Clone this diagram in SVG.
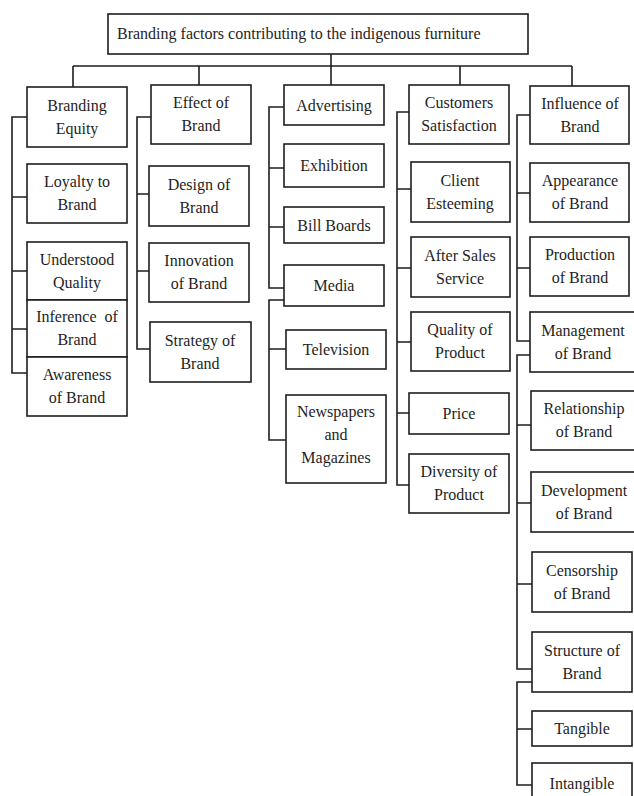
<svg xmlns="http://www.w3.org/2000/svg" width="634" height="796" viewBox="0 0 634 796">
<style>
.b{fill:#fff;stroke:#1e1e1e;stroke-width:1.6}
.t{font-family:"Liberation Serif","Times New Roman",serif;font-size:16px;fill:#1e1e1e;text-anchor:middle}
.c{fill:none;stroke:#1e1e1e;stroke-width:1.6}
</style>
<rect width="634" height="796" fill="#fff"/>
<g id="connectors">
<path class="c" d="M331,54V86M73,66H572M73,66V87M199,66V85M460,66V85M572,66V86"/>
<path class="c" d="M27,117H12V373H27M12,197H27M12,271H27M12,329H27"/>
<path class="c" d="M151,117H137V349H150M137,194H149M137,271H149"/>
<path class="c" d="M284,107H269V288H284M269,168H284M269,227H284"/>
<path class="c" d="M284,300H269V440H286M269,349H286"/>
<path class="c" d="M409,112H397V485H409M397,189H411M397,268H411M397,342H411M397,413H409"/>
<path class="c" d="M530,115H517V341H530M517,193H530M517,268H530"/>
<path class="c" d="M530,355H517V669H532M517,425H531M517,503H531M517,584H532"/>
<path class="c" d="M532,682H517V785H532M517,729H532"/>
</g>
<g id="root"><rect class="b" x="108" y="14" width="420" height="40"/><text class="t" x="117" y="39" style="text-anchor:start">Branding factors contributing to the indigenous furniture</text></g>
<g id="branding-equity"><rect class="b" x="27" y="87" width="100" height="60"/><text class="t" x="77" y="110.5">Branding</text><text class="t" x="77" y="133.5">Equity</text></g>
<g id="loyalty"><rect class="b" x="27" y="164" width="100" height="59"/><text class="t" x="77" y="187">Loyalty to</text><text class="t" x="77" y="210">Brand</text></g>
<g id="understood"><rect class="b" x="27" y="242" width="100" height="58"/><text class="t" x="77" y="264.5">Understood</text><text class="t" x="77" y="287.5">Quality</text></g>
<g id="inference"><rect class="b" x="27" y="300" width="100" height="57"/><text class="t" x="77" y="322" xml:space="preserve">Inference  of</text><text class="t" x="77" y="345">Brand</text></g>
<g id="awareness"><rect class="b" x="27" y="357" width="100" height="59"/><text class="t" x="77" y="380">Awareness</text><text class="t" x="77" y="403">of Brand</text></g>
<g id="effect"><rect class="b" x="151" y="85" width="100" height="59"/><text class="t" x="201" y="108">Effect of</text><text class="t" x="201" y="131">Brand</text></g>
<g id="design"><rect class="b" x="149" y="166" width="100" height="60"/><text class="t" x="199" y="189.5">Design of</text><text class="t" x="199" y="212.5">Brand</text></g>
<g id="innovation"><rect class="b" x="149" y="243" width="100" height="59"/><text class="t" x="199" y="266">Innovation</text><text class="t" x="199" y="289">of Brand</text></g>
<g id="strategy"><rect class="b" x="150" y="322" width="101" height="60"/><text class="t" x="200" y="345.5">Strategy of</text><text class="t" x="200" y="368.5">Brand</text></g>
<g id="advertising"><rect class="b" x="284" y="85" width="100" height="40"/><text class="t" x="334" y="110.5">Advertising</text></g>
<g id="exhibition"><rect class="b" x="284" y="144" width="100" height="43"/><text class="t" x="334" y="171">Exhibition</text></g>
<g id="billboards"><rect class="b" x="284" y="207" width="100" height="36"/><text class="t" x="334" y="230.5">Bill Boards</text></g>
<g id="media"><rect class="b" x="284" y="265" width="100" height="41"/><text class="t" x="334" y="291">Media</text></g>
<g id="television"><rect class="b" x="286" y="330" width="100" height="39"/><text class="t" x="336" y="355">Television</text></g>
<g id="newspapers"><rect class="b" x="286" y="395" width="100" height="88"/><text class="t" x="336" y="417">Newspapers</text><text class="t" x="336" y="440">and</text><text class="t" x="336" y="463">Magazines</text></g>
<g id="customers"><rect class="b" x="409" y="85" width="100" height="59"/><text class="t" x="459" y="108">Customers</text><text class="t" x="459" y="131">Satisfaction</text></g>
<g id="client"><rect class="b" x="411" y="162" width="99" height="60"/><text class="t" x="460" y="185.5">Client</text><text class="t" x="460" y="208.5">Esteeming</text></g>
<g id="aftersales"><rect class="b" x="411" y="237" width="99" height="60"/><text class="t" x="460" y="260.5">After Sales</text><text class="t" x="460" y="283.5">Service</text></g>
<g id="quality"><rect class="b" x="411" y="312" width="99" height="59"/><text class="t" x="460" y="335">Quality of</text><text class="t" x="460" y="358">Product</text></g>
<g id="price"><rect class="b" x="409" y="393" width="100" height="41"/><text class="t" x="459" y="419">Price</text></g>
<g id="diversity"><rect class="b" x="409" y="454" width="100" height="59"/><text class="t" x="459" y="477">Diversity of</text><text class="t" x="459" y="500">Product</text></g>
<g id="influence"><rect class="b" x="530" y="86" width="99" height="58"/><text class="t" x="580" y="108.5">Influence of</text><text class="t" x="580" y="131.5">Brand</text></g>
<g id="appearance"><rect class="b" x="530" y="163" width="99" height="59"/><text class="t" x="580" y="186">Appearance</text><text class="t" x="580" y="209">of Brand</text></g>
<g id="production"><rect class="b" x="530" y="237" width="99" height="59"/><text class="t" x="580" y="260">Production</text><text class="t" x="580" y="283">of Brand</text></g>
<g id="management"><rect class="b" x="530" y="312" width="106" height="60"/><text class="t" x="583" y="335.5">Management</text><text class="t" x="583" y="358.5">of Brand</text></g>
<g id="relationship"><rect class="b" x="531" y="391" width="106" height="59"/><text class="t" x="584" y="414">Relationship</text><text class="t" x="584" y="437">of Brand</text></g>
<g id="development"><rect class="b" x="531" y="472" width="106" height="60"/><text class="t" x="584" y="495.5">Development</text><text class="t" x="584" y="518.5">of Brand</text></g>
<g id="censorship"><rect class="b" x="532" y="552" width="100" height="60"/><text class="t" x="582" y="575.5">Censorship</text><text class="t" x="582" y="598.5">of Brand</text></g>
<g id="structure"><rect class="b" x="532" y="632" width="100" height="60"/><text class="t" x="582" y="655.5">Structure of</text><text class="t" x="582" y="678.5">Brand</text></g>
<g id="tangible"><rect class="b" x="532" y="711" width="100" height="35"/><text class="t" x="582" y="734">Tangible</text></g>
<g id="intangible"><rect class="b" x="532" y="763" width="100" height="45"/><text class="t" x="582" y="789">Intangible</text></g>
</svg>
